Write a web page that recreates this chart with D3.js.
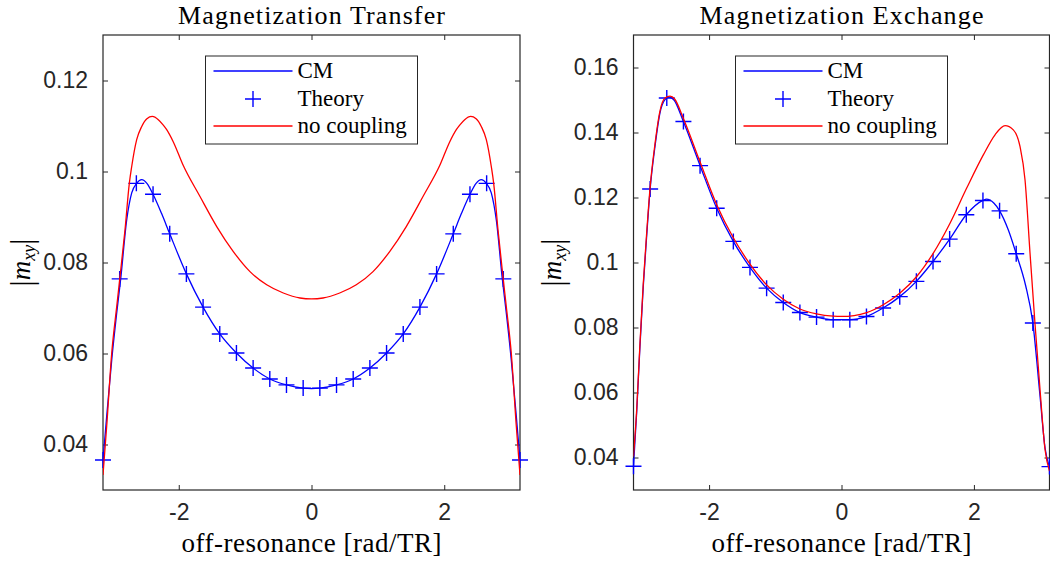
<!DOCTYPE html>
<html>
<head>
<meta charset="utf-8">
<script src="https://cdn.jsdelivr.net/npm/d3@7"></script>
<style>
body { margin: 0; background: #fff; }
</style>
</head>
<body>
<script>
// values
var xTicks = [-2, 0, 2];
var xTickLabels = ["-2", "0", "2"];
var transferTicks = [0.04, 0.06, 0.08, 0.1, 0.12];
var transferTickLabels = ["0.04", "0.06", "0.08", "0.1", "0.12"];
var exchangeTicks = [0.04, 0.06, 0.08, 0.1, 0.12, 0.14, 0.16];
var exchangeTickLabels = ["0.04", "0.06", "0.08", "0.1", "0.12", "0.14", "0.16"];
var legendLabels = ["CM", "Theory", "no coupling"];

var theoryX = [-3.1416, -2.8903, -2.6389, -2.3876, -2.1363, -1.8850, -1.6336, -1.3823, -1.1310, -0.8796, -0.6283, -0.3770, -0.1257,
  0.1257, 0.3770, 0.6283, 0.8796, 1.1310, 1.3823, 1.6336, 1.8850, 2.1363, 2.3876, 2.6389, 2.8903, 3.1416];

var transferTheory = [0.0366, 0.0764, 0.0974, 0.0950, 0.0863, 0.0775, 0.0702, 0.0643, 0.0601, 0.0568, 0.0544, 0.0531, 0.0524,
  0.0524, 0.0531, 0.0544, 0.0568, 0.0601, 0.0643, 0.0702, 0.0775, 0.0863, 0.0950, 0.0974, 0.0764, 0.0366];

var transferCmX = [-3.1416, -3.086, -3.010, -2.935, -2.875, -2.784, -2.709, -2.634, -2.558, -2.480, -2.388, -2.260, -2.136, -1.885, -1.634, -1.382, -1.131, -0.880, -0.628, -0.377, -0.126,
  0, 0.126, 0.377, 0.628, 0.880, 1.131, 1.382, 1.634, 1.885, 2.136, 2.260, 2.388, 2.480, 2.558, 2.634, 2.709, 2.784, 2.875, 2.935, 3.010, 3.086, 3.1416];
var transferCmY = [0.0366, 0.0462, 0.0586, 0.0689, 0.0764, 0.0894, 0.0953, 0.0974, 0.0982, 0.0974, 0.0950, 0.0908, 0.0863, 0.0775, 0.0702, 0.0643, 0.0601, 0.0568, 0.0544, 0.0531, 0.0524,
  0.0523, 0.0524, 0.0531, 0.0544, 0.0568, 0.0601, 0.0643, 0.0702, 0.0775, 0.0863, 0.0908, 0.0950, 0.0974, 0.0982, 0.0974, 0.0953, 0.0894, 0.0764, 0.0689, 0.0586, 0.0462, 0.0366];

var transferNoX = [-3.1416, -3.086, -3.010, -2.935, -2.885, -2.810, -2.745, -2.709, -2.634, -2.558, -2.480, -2.399, -2.308, -2.233, -2.182, -2.082, -1.932, -1.680, -1.428, -1.178, -0.927, -0.675, -0.425, -0.173,
  0, 0.173, 0.425, 0.675, 0.927, 1.178, 1.428, 1.680, 1.932, 2.082, 2.182, 2.233, 2.308, 2.399, 2.480, 2.558, 2.634, 2.709, 2.745, 2.810, 2.885, 2.935, 3.010, 3.086, 3.1416];
var transferNoY = [0.0333, 0.0440, 0.0601, 0.0703, 0.0769, 0.0872, 0.0974, 0.1011, 0.1070, 0.1099, 0.1116, 0.1121, 0.1114, 0.1102, 0.1092, 0.1065, 0.1013, 0.0945, 0.0879, 0.0824, 0.0780, 0.0751, 0.0733, 0.0722,
  0.0720, 0.0722, 0.0733, 0.0751, 0.0780, 0.0824, 0.0879, 0.0945, 0.1013, 0.1065, 0.1092, 0.1102, 0.1114, 0.1121, 0.1116, 0.1099, 0.1070, 0.1011, 0.0974, 0.0872, 0.0769, 0.0703, 0.0601, 0.0440, 0.0333];

var exchangeTheory = [0.0373, 0.1226, 0.1506, 0.1434, 0.1298, 0.1167, 0.1065, 0.0985, 0.0921, 0.0877, 0.0846, 0.0832, 0.0824,
  0.0824, 0.0834, 0.0860, 0.0895, 0.0942, 0.1003, 0.1072, 0.1147, 0.1191, 0.1159, 0.1027, 0.0814, 0.0372];

var exchangeCmX = [-3.1416, -3.094, -3.044, -2.994, -2.943, -2.890, -2.817, -2.742, -2.666, -2.601, -2.530, -2.388, -2.136, -1.885, -1.634, -1.382, -1.131, -0.880, -0.628, -0.377, -0.126,
  0.126, 0.377, 0.628, 0.880, 1.131, 1.382, 1.634, 1.885, 2.136, 2.190, 2.300, 2.388, 2.520, 2.639, 2.780, 2.890, 2.998, 3.074, 3.1416];
var exchangeCmY = [0.0374, 0.0537, 0.0742, 0.0926, 0.1080, 0.1226, 0.1357, 0.1460, 0.1501, 0.1509, 0.1500, 0.1434, 0.1298, 0.1167, 0.1065, 0.0985, 0.0921, 0.0877, 0.0846, 0.0832, 0.0824,
  0.0824, 0.0834, 0.0860, 0.0895, 0.0942, 0.1003, 0.1072, 0.1147, 0.1191, 0.1195, 0.1183, 0.1159, 0.1100, 0.1027, 0.0930, 0.0814, 0.0590, 0.0430, 0.0370];

var exchangeNoX = [-3.1416, -3.094, -3.044, -2.994, -2.943, -2.890, -2.817, -2.742, -2.666, -2.590, -2.520, -2.388, -2.136, -1.885, -1.634, -1.382, -1.131, -0.880, -0.628, -0.377, -0.126,
  0, 0.381, 0.631, 0.884, 1.136, 1.387, 1.639, 1.891, 2.142, 2.319, 2.470, 2.595, 2.696, 2.772, 2.847, 2.923, 2.998, 3.074, 3.1416];
var exchangeNoY = [0.0403, 0.0545, 0.0750, 0.0935, 0.1090, 0.1233, 0.1365, 0.1466, 0.1506, 0.1512, 0.1503, 0.1443, 0.1309, 0.1178, 0.1076, 0.0995, 0.0931, 0.0887, 0.0857, 0.0842, 0.0835,
  0.0834, 0.0846, 0.0870, 0.0906, 0.0957, 0.1029, 0.1121, 0.1229, 0.1331, 0.1393, 0.1421, 0.1408, 0.1357, 0.1254, 0.1030, 0.0810, 0.0610, 0.0425, 0.0358];

var W = 1050, H = 562;
var plotTop = 35, plotBottom = 490;
var axisColor = "#262626";
var serif = "'Liberation Serif', 'Times New Roman', serif";
var sans = "'Liberation Sans', Arial, sans-serif";

var svg = d3.select("body").append("svg")
  .attr("width", W)
  .attr("height", H)
  .style("background", "#fff");

var panels = [
  { id: "mt", title: "Magnetization Transfer", titleLen: 267, left: 103, right: 520, yDomain: [0.03, 0.13],
    ticks: transferTicks, tickLabels: transferTickLabels, theory: transferTheory,
    cmX: transferCmX, cmY: transferCmY, noX: transferNoX, noY: transferNoY },
  { id: "mx", title: "Magnetization Exchange", titleLen: 284, left: 633.5, right: 1049.5, yDomain: [0.03, 0.17],
    ticks: exchangeTicks, tickLabels: exchangeTickLabels, theory: exchangeTheory,
    cmX: exchangeCmX, cmY: exchangeCmY, noX: exchangeNoX, noY: exchangeNoY }
];

var plus = "M-8,0H8M0,-8V8";

panels.forEach(function (p) {
  var x = d3.scaleLinear().domain([-Math.PI, Math.PI]).range([p.left, p.right]);
  var y = d3.scaleLinear().domain(p.yDomain).range([plotBottom, plotTop]);
  var cx = (p.left + p.right) / 2;
  var g = svg.append("g");

  g.append("clipPath").attr("id", "clip-" + p.id)
    .append("rect")
    .attr("x", p.left).attr("y", plotTop)
    .attr("width", p.right - p.left).attr("height", plotBottom - plotTop);

  // axes, ticks pointing inward on all four sides
  var styleAxis = function (sel) {
    sel.select(".domain").remove();
    sel.selectAll(".tick line").attr("stroke", axisColor).attr("stroke-width", 1);
    sel.selectAll(".tick text")
      .attr("fill", axisColor)
      .style("font-family", sans)
      .style("font-size", "23px");
  };

  g.append("g").attr("transform", "translate(0," + plotBottom + ")")
    .call(d3.axisBottom(x).tickValues(xTicks).tickSize(-5).tickPadding(14)
      .tickFormat(function (d, i) { return xTickLabels[i]; }))
    .call(styleAxis);
  g.append("g").attr("transform", "translate(0," + plotTop + ")")
    .call(d3.axisTop(x).tickValues(xTicks).tickSize(-5).tickFormat(""))
    .call(styleAxis);
  g.append("g").attr("transform", "translate(" + p.left + ",0)")
    .call(d3.axisLeft(y).tickValues(p.ticks).tickSize(-5).tickPadding(15)
      .tickFormat(function (d, i) { return p.tickLabels[i]; }))
    .call(styleAxis);
  g.append("g").attr("transform", "translate(" + p.right + ",0)")
    .call(d3.axisRight(y).tickValues(p.ticks).tickSize(-5).tickFormat(""))
    .call(styleAxis);

  g.append("rect")
    .attr("x", p.left).attr("y", plotTop)
    .attr("width", p.right - p.left).attr("height", plotBottom - plotTop)
    .attr("fill", "none")
    .attr("stroke", axisColor)
    .attr("stroke-width", 1.2);

  var line = d3.line()
    .x(function (d) { return x(d[0]); })
    .y(function (d) { return y(d[1]); })
    .curve(d3.curveMonotoneX);

  g.append("path")
    .datum(d3.zip(p.cmX, p.cmY))
    .attr("d", line)
    .attr("clip-path", "url(#clip-" + p.id + ")")
    .attr("fill", "none")
    .attr("stroke", "#0000ff")
    .attr("stroke-width", 1.3);

  g.selectAll(".theory")
    .data(d3.zip(theoryX, p.theory))
    .enter()
    .append("path")
    .attr("class", "theory")
    .attr("transform", function (d) { return "translate(" + x(d[0]) + "," + y(d[1]) + ")"; })
    .attr("d", plus)
    .attr("fill", "none")
    .attr("stroke", "#0000ff")
    .attr("stroke-width", 1.4);

  g.append("path")
    .datum(d3.zip(p.noX, p.noY))
    .attr("d", line)
    .attr("clip-path", "url(#clip-" + p.id + ")")
    .attr("fill", "none")
    .attr("stroke", "#ff0000")
    .attr("stroke-width", 1.3);

  // title and labels
  g.append("text")
    .attr("x", cx).attr("y", 24)
    .attr("text-anchor", "middle")
    .attr("textLength", p.titleLen)
    .attr("lengthAdjust", "spacing")
    .style("font-family", serif)
    .style("font-size", "26px")
    .attr("fill", "#000")
    .text(p.title);

  g.append("text")
    .attr("x", cx).attr("y", 552)
    .attr("text-anchor", "middle")
    .attr("textLength", 260)
    .attr("lengthAdjust", "spacing")
    .style("font-family", serif)
    .style("font-size", "27px")
    .attr("fill", "#000")
    .text("off-resonance [rad/TR]");

  var yl = g.append("text")
    .attr("transform", "translate(" + (p.left - 73) + "," + ((plotTop + plotBottom) / 2) + ") rotate(-90)")
    .attr("text-anchor", "middle")
    .style("font-family", serif)
    .style("font-size", "27px")
    .attr("fill", "#000");
  yl.append("tspan").style("font-size", "31px").attr("dy", 2).text("|");
  yl.append("tspan").style("font-style", "italic").attr("dy", -2).text("m");
  yl.append("tspan").style("font-style", "italic").style("font-size", "18px").attr("dy", 5).text("xy");
  yl.append("tspan").style("font-size", "31px").attr("dy", -3).text("|");

  // legend, centred at the top of the axes
  var lw = 212, lh = 88;
  var lx = cx - lw / 2, ly = 56;
  var lg = g.append("g").attr("transform", "translate(" + lx + "," + ly + ")");
  lg.append("rect")
    .attr("width", lw).attr("height", lh)
    .attr("fill", "#fff")
    .attr("stroke", axisColor)
    .attr("stroke-width", 1);
  var rows = [15, 43, 70];
  lg.append("line")
    .attr("x1", 8).attr("x2", 87).attr("y1", rows[0]).attr("y2", rows[0])
    .attr("stroke", "#0000ff").attr("stroke-width", 1.3);
  lg.append("path")
    .attr("transform", "translate(47.5," + rows[1] + ")")
    .attr("d", plus)
    .attr("fill", "none").attr("stroke", "#0000ff").attr("stroke-width", 1.4);
  lg.append("line")
    .attr("x1", 8).attr("x2", 87).attr("y1", rows[2]).attr("y2", rows[2])
    .attr("stroke", "#ff0000").attr("stroke-width", 1.3);
  lg.selectAll(".ltext")
    .data(legendLabels)
    .enter()
    .append("text")
    .attr("class", "ltext")
    .attr("x", 92)
    .attr("y", function (d, i) { return rows[i] + 7; })
    .style("font-family", serif)
    .style("font-size", "23px")
    .attr("fill", "#000")
    .text(function (d) { return d; });
});
</script>
</body>
</html>
